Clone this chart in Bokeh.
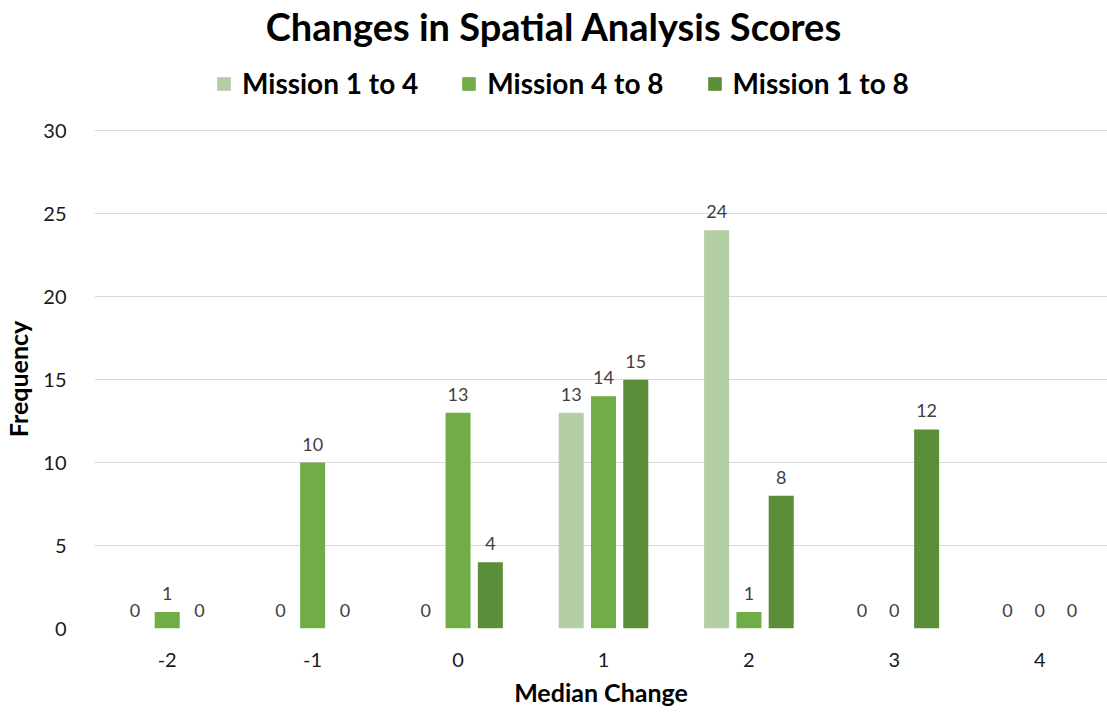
from bokeh.plotting import figure
from bokeh.layouts import column
from bokeh.models import ColumnDataSource, FixedTicker, Legend, LegendItem, LabelSet, Range1d
from bokeh.transform import dodge
from bokeh.core.properties import value
from bokeh.embed import file_html
from bokeh.resources import INLINE

# ---- data ----
categories = [-2, -1, 0, 1, 2, 3, 4]
tick_labels = ["-2", "-1", "0", "1", "2", "3", "4"]
mission_1_to_4 = [0, 0, 0, 13, 24, 0, 0]
mission_4_to_8 = [1, 10, 13, 14, 1, 0, 0]
mission_1_to_8 = [0, 0, 4, 15, 8, 12, 0]
series_names = ["Mission 1 to 4", "Mission 4 to 8", "Mission 1 to 8"]
y_ticks = [0, 5, 10, 15, 20, 25, 30]
title_text = "Changes in Spatial Analysis Scores"

colors = ["#B4CFA6", "#70AD47", "#5B8E38"]
offsets = [-0.222, 0.0, 0.222]
bar_width = 0.172

W = 1107
HDR_H = 118
series = [mission_1_to_4, mission_4_to_8, mission_1_to_8]
data = dict(x=categories)
for i, s in enumerate(series):
    data[f"s{i}"] = s
    data[f"l{i}"] = [str(v) for v in s]
src = ColumnDataSource(data)

# ---- header: title + legend ----
hdr = figure(width=W, height=HDR_H, output_backend="svg", toolbar_location=None,
             x_axis_type=None, y_axis_type=None, title=title_text,
             x_range=Range1d(0, 1), y_range=Range1d(0, 1),
             min_border_left=0, min_border_right=0, min_border_top=0, min_border_bottom=0)
hdr.outline_line_color = None
hdr.title.text_font = "Lato"
hdr.title.text_font_size = "38px"
hdr.title.text_font_style = "bold"
hdr.title.text_color = "#000000"
hdr.title.standoff = 0

aligned_off = False
try:
    hdr.frame_align = False
    aligned_off = True
except Exception:
    aligned_off = False

if aligned_off:
    hdr.title.align = "center"
    legend_x = 215
else:
    hdr.title.align = "left"
    hdr.title.offset = 178
    legend_x = 125

# swatch renderers for the legend (zero-height, not visible in the header)
legend_renderers = []
for i in range(3):
    r = hdr.vbar(x=[0.5], top=[0], bottom=[0], width=0.0, fill_color=colors[i], line_color=None)
    legend_renderers.append(r)
legend = Legend(items=[LegendItem(label=series_names[i], renderers=[legend_renderers[i]]) for i in range(3)],
                orientation="horizontal", location=(legend_x, 18),
                border_line_color=None, background_fill_alpha=0,
                label_text_font="Lato", label_text_font_style="bold", label_text_font_size="28px",
                label_text_color="#000000",
                glyph_width=17, glyph_height=17, spacing=42, label_standoff=10,
                padding=0, margin=0)
hdr.add_layout(legend, "center")

# ---- main chart ----
p = figure(width=W, height=712 - HDR_H, output_backend="svg", toolbar_location=None,
           x_range=Range1d(-2.5, -2.5 + 1017 / 146.0), y_range=Range1d(0, 30.08),
           min_border_left=90, min_border_right=0, min_border_top=11, min_border_bottom=84)
p.outline_line_color = None

for i in range(3):
    p.vbar(x=dodge("x", offsets[i]), top=f"s{i}", width=bar_width, source=src,
           fill_color=colors[i], line_color=None)
    lbl = LabelSet(x=dodge("x", offsets[i]), y=f"s{i}", text=f"l{i}", source=src,
                   text_align="center", text_baseline="alphabetic", y_offset=12,
                   text_font=value("Lato"), text_font_size=value("18px"), text_color="#404040")
    p.add_layout(lbl)

p.xaxis.ticker = FixedTicker(ticks=categories)
p.xaxis.major_label_overrides = {c: t for c, t in zip(categories, tick_labels)}
p.yaxis.ticker = FixedTicker(ticks=y_ticks)
for ax in (p.xaxis, p.yaxis):
    ax.axis_line_color = None
    ax.major_tick_line_color = None
    ax.minor_tick_line_color = None
    ax.major_label_text_font = "Lato"
    ax.major_label_text_font_size = "20px"
    ax.major_label_text_color = "#1a1a1a"
    ax.axis_label_text_font = "Lato"
    ax.axis_label_text_font_style = "bold"
    ax.axis_label_text_font_size = "25px"
    ax.axis_label_text_color = "#000000"
p.xaxis.axis_label = "Median Change"
p.yaxis.axis_label = "Frequency"
p.xaxis.major_label_standoff = 18
p.xaxis.axis_label_standoff = 7
p.yaxis.major_label_standoff = 22
p.yaxis.axis_label_standoff = 7

p.xgrid.grid_line_color = None
p.ygrid.grid_line_color = "#D9D9D9"
p.ygrid.grid_line_width = 1

layout = column(hdr, p, spacing=0)
open("out.html", "w").write(file_html(layout, INLINE))
